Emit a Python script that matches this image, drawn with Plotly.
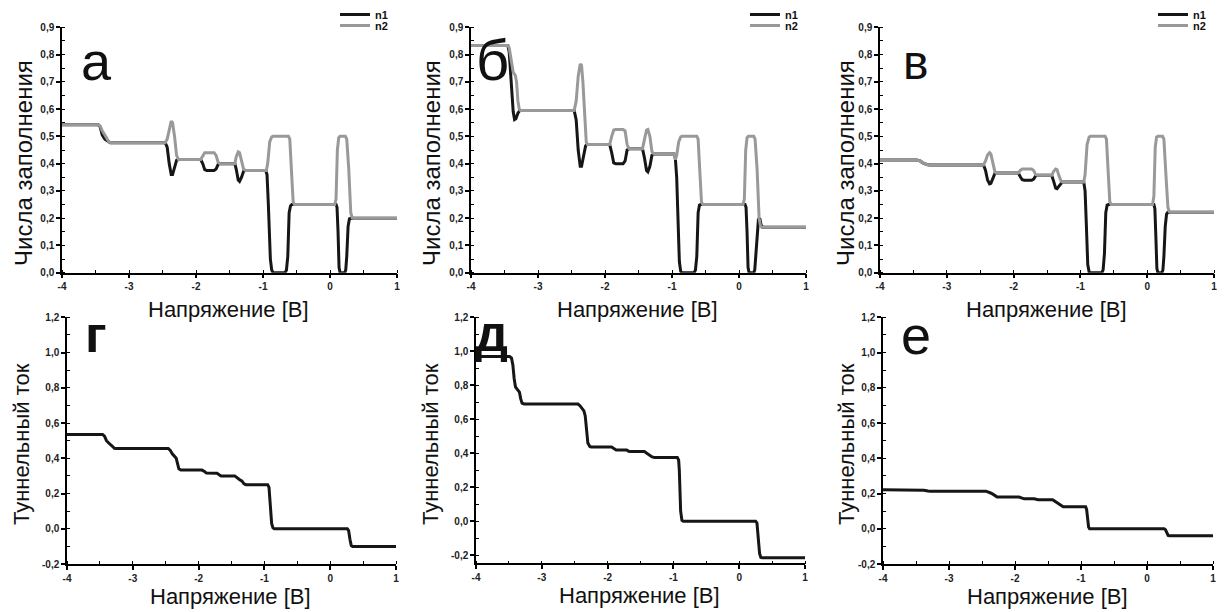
import plotly.graph_objects as go

W, H = 1232, 612

# ---------------- data: occupation numbers (top row) ----------------
a_n1_x = [-4, -3.46, -3.43, -3.40, -3.36, -3.32, -3.28, -2.46, -2.43, -2.40, -2.37, -2.35, -2.32, -2.29, -2.26,
          -1.93, -1.90, -1.87, -1.84, -1.73, -1.70, -1.67, -1.64, -1.42, -1.40, -1.37, -1.35, -1.32, -1.29, -1.26,
          -0.96, -0.94, -0.92, -0.89, -0.87, -0.85, -0.67, -0.65, -0.63, -0.61, -0.59, -0.57, 0.09, 0.105, 0.12,
          0.135, 0.15, 0.22, 0.235, 0.25, 0.27, 0.29, 0.31, 1]
a_n1_y = [0.543, 0.543, 0.535, 0.505, 0.49, 0.482, 0.477, 0.477, 0.46, 0.40, 0.36, 0.36, 0.39, 0.412, 0.415,
          0.415, 0.40, 0.378, 0.375, 0.375, 0.38, 0.397, 0.40, 0.40, 0.38, 0.34, 0.335, 0.35, 0.372, 0.375,
          0.375, 0.36, 0.25, 0.05, 0.01, 0.0, 0.0, 0.01, 0.06, 0.22, 0.245, 0.25, 0.25, 0.24, 0.15,
          0.02, 0.0, 0.0, 0.01, 0.06, 0.17, 0.198, 0.20, 0.20]
a_n2_x = [-4, -3.46, -3.43, -3.40, -3.36, -3.33, -3.30, -3.27, -2.46, -2.43, -2.40, -2.37, -2.35, -2.32, -2.29,
          -2.26, -1.93, -1.90, -1.87, -1.73, -1.70, -1.67, -1.64, -1.42, -1.40, -1.37, -1.35, -1.32, -1.29, -1.26,
          -0.95, -0.93, -0.90, -0.87, -0.85, -0.62, -0.60, -0.57, -0.55, -0.53, 0.07, 0.09, 0.11, 0.13, 0.15,
          0.23, 0.25, 0.28, 0.31, 0.33, 0.35, 1]
a_n2_y = [0.543, 0.543, 0.538, 0.52, 0.505, 0.49, 0.479, 0.477, 0.477, 0.49, 0.53, 0.556, 0.55, 0.50, 0.43,
          0.415, 0.415, 0.43, 0.44, 0.44, 0.43, 0.405, 0.40, 0.40, 0.425, 0.443, 0.44, 0.41, 0.38, 0.375,
          0.375, 0.40, 0.48, 0.498, 0.50, 0.50, 0.49, 0.35, 0.26, 0.25, 0.25, 0.27, 0.45, 0.495, 0.50,
          0.50, 0.49, 0.38, 0.22, 0.202, 0.20, 0.20]

b_n1_x = [-4, -3.45, -3.43, -3.40, -3.37, -3.35, -3.33, -3.30, -3.27, -2.46, -2.43, -2.40, -2.37, -2.35, -2.32,
          -2.29, -2.27, -1.93, -1.90, -1.87, -1.84, -1.73, -1.70, -1.67, -1.64, -1.44, -1.41, -1.38, -1.36, -1.33,
          -1.30, -1.27, -0.97, -0.95, -0.93, -0.91, -0.89, -0.87, -0.85, -0.67, -0.65, -0.63, -0.61, -0.59, -0.57,
          0.09, 0.105, 0.12, 0.135, 0.15, 0.22, 0.235, 0.25, 0.27, 0.29, 0.31, 0.33, 0.35, 1]
b_n1_y = [0.833, 0.833, 0.81, 0.70, 0.59, 0.562, 0.565, 0.585, 0.595, 0.595, 0.56, 0.45, 0.39, 0.39, 0.43,
          0.465, 0.47, 0.47, 0.44, 0.403, 0.40, 0.40, 0.41, 0.45, 0.455, 0.455, 0.42, 0.375, 0.37, 0.39,
          0.43, 0.435, 0.435, 0.42, 0.35, 0.20, 0.04, 0.005, 0.0, 0.0, 0.01, 0.06, 0.22, 0.248, 0.25,
          0.25, 0.24, 0.15, 0.02, 0.0, 0.0, 0.01, 0.06, 0.16, 0.195, 0.20, 0.175, 0.167, 0.167]
b_n2_x = [-4, -3.45, -3.43, -3.40, -3.37, -3.34, -3.32, -3.30, -3.28, -3.26, -2.46, -2.43, -2.40, -2.37, -2.35,
          -2.33, -2.30, -2.28, -2.26, -1.93, -1.90, -1.87, -1.84, -1.73, -1.70, -1.67, -1.64, -1.44, -1.41, -1.38,
          -1.36, -1.33, -1.30, -1.27, -0.97, -0.95, -0.93, -0.90, -0.87, -0.85, -0.63, -0.61, -0.58, -0.56, -0.54,
          0.06, 0.08, 0.10, 0.12, 0.14, 0.22, 0.24, 0.27, 0.30, 0.32, 0.34, 1]
b_n2_y = [0.833, 0.833, 0.825, 0.78, 0.735, 0.725, 0.70, 0.63, 0.60, 0.595, 0.595, 0.63, 0.72, 0.765, 0.76,
          0.70, 0.55, 0.48, 0.47, 0.47, 0.50, 0.523, 0.525, 0.525, 0.52, 0.47, 0.455, 0.455, 0.49, 0.523,
          0.525, 0.50, 0.445, 0.435, 0.435, 0.415, 0.43, 0.48, 0.498, 0.50, 0.50, 0.49, 0.35, 0.26, 0.25,
          0.25, 0.27, 0.45, 0.495, 0.50, 0.50, 0.49, 0.38, 0.20, 0.172, 0.167, 0.167]

c_n1_x = [-4, -3.45, -3.40, -3.36, -3.30, -3.26, -2.45, -2.42, -2.39, -2.36, -2.34, -2.31, -2.28, -2.26, -1.93,
          -1.90, -1.87, -1.84, -1.73, -1.70, -1.67, -1.64, -1.43, -1.40, -1.37, -1.35, -1.32, -1.29, -1.27, -0.95,
          -0.93, -0.91, -0.89, -0.87, -0.85, -0.68, -0.66, -0.64, -0.62, -0.60, -0.58, 0.10, 0.115, 0.13, 0.145,
          0.16, 0.22, 0.235, 0.25, 0.27, 0.29, 0.31, 1]
c_n1_y = [0.413, 0.413, 0.41, 0.403, 0.397, 0.395, 0.395, 0.375, 0.34, 0.326, 0.328, 0.35, 0.364, 0.366, 0.366,
          0.352, 0.341, 0.339, 0.339, 0.343, 0.355, 0.357, 0.357, 0.335, 0.31, 0.308, 0.318, 0.331, 0.333, 0.333,
          0.30, 0.17, 0.03, 0.003, 0.0, 0.0, 0.01, 0.07, 0.22, 0.248, 0.25, 0.25, 0.235, 0.13, 0.015,
          0.0, 0.0, 0.01, 0.06, 0.17, 0.215, 0.222, 0.222]
c_n2_x = [-4, -3.45, -3.40, -3.36, -3.30, -3.26, -2.45, -2.42, -2.39, -2.36, -2.34, -2.31, -2.28, -2.26, -1.93,
          -1.90, -1.87, -1.73, -1.70, -1.67, -1.64, -1.43, -1.40, -1.37, -1.35, -1.32, -1.29, -1.27, -0.95, -0.93,
          -0.90, -0.87, -0.85, -0.63, -0.61, -0.58, -0.56, -0.54, 0.08, 0.10, 0.12, 0.14, 0.16, 0.23, 0.25,
          0.28, 0.31, 0.33, 0.35, 1]
c_n2_y = [0.413, 0.413, 0.41, 0.403, 0.397, 0.395, 0.395, 0.41, 0.432, 0.44, 0.435, 0.40, 0.37, 0.366, 0.366,
          0.375, 0.38, 0.38, 0.375, 0.36, 0.357, 0.357, 0.372, 0.38, 0.378, 0.355, 0.336, 0.333, 0.333, 0.36,
          0.47, 0.497, 0.50, 0.50, 0.49, 0.35, 0.26, 0.25, 0.25, 0.28, 0.46, 0.497, 0.50, 0.50, 0.49,
          0.36, 0.24, 0.224, 0.222, 0.222]

# ---------------- data: tunnelling current (bottom row) ----------------
d_x = [-4, -3.46, -3.43, -3.40, -3.37, -3.34, -3.31, -3.28, -3.25, -2.46, -2.43, -2.40, -2.37, -2.34, -2.32,
       -2.30, -2.27, -1.95, -1.91, -1.88, -1.72, -1.69, -1.66, -1.45, -1.42, -1.38, -1.34, -1.31, -1.28, -0.95,
       -0.93, -0.91, -0.89, -0.87, -0.85, 0.26, 0.28, 0.30, 0.32, 0.34, 1]
d_y = [0.535, 0.535, 0.525, 0.50, 0.488, 0.48, 0.468, 0.457, 0.455, 0.455, 0.445, 0.425, 0.413, 0.40, 0.37,
       0.34, 0.333, 0.333, 0.325, 0.316, 0.315, 0.306, 0.30, 0.30, 0.29, 0.28, 0.27, 0.255, 0.25, 0.25,
       0.235, 0.15, 0.03, 0.005, 0.0, 0.0, -0.01, -0.06, -0.095, -0.10, -0.10]

e_x = [-4, -3.49, -3.46, -3.44, -3.42, -3.40, -3.37, -3.34, -3.32, -3.30, -3.27, -2.45, -2.42, -2.39, -2.36,
       -2.34, -2.32, -2.30, -2.27, -2.25, -1.94, -1.90, -1.87, -1.71, -1.68, -1.65, -1.44, -1.41, -1.37, -1.33,
       -1.29, -0.94, -0.92, -0.91, -0.89, -0.87, -0.85, 0.25, 0.27, 0.29, 0.31, 0.33, 0.35, 1]
e_y = [0.97, 0.97, 0.96, 0.92, 0.84, 0.79, 0.775, 0.76, 0.72, 0.695, 0.69, 0.69, 0.68, 0.662, 0.65,
       0.62, 0.53, 0.46, 0.44, 0.437, 0.437, 0.428, 0.42, 0.42, 0.412, 0.41, 0.41, 0.402, 0.39, 0.38,
       0.375, 0.375, 0.36, 0.30, 0.06, 0.005, 0.0, 0.0, -0.01, -0.08, -0.19, -0.213, -0.215, -0.215]

f_x = [-4, -3.44, -3.38, -3.32, -3.28, -2.44, -2.41, -2.37, -2.33, -2.30, -2.27, -1.94, -1.90, -1.86, -1.71,
       -1.68, -1.65, -1.43, -1.40, -1.37, -1.33, -1.30, -1.27, -0.93, -0.915, -0.90, -0.885, -0.87, 0.26, 0.28,
       0.30, 0.32, 0.34, 1]
f_y = [0.221, 0.221, 0.219, 0.214, 0.213, 0.213, 0.21, 0.203, 0.195, 0.185, 0.18, 0.18, 0.174, 0.17, 0.17,
       0.166, 0.165, 0.165, 0.158, 0.148, 0.142, 0.13, 0.125, 0.125, 0.11, 0.06, 0.01, 0.0, 0.0, -0.005,
       -0.025, -0.038, -0.04, -0.04]

# ---------------- tick labels / texts ----------------
x_ticks = [-4, -3, -2, -1, 0, 1]
x_ticktext = ["-4", "-3", "-2", "-1", "0", "1"]
occ_ticks = [0.0, 0.1, 0.2, 0.3, 0.4, 0.5, 0.6, 0.7, 0.8, 0.9]
occ_ticktext = ["0,0", "0,1", "0,2", "0,3", "0,4", "0,5", "0,6", "0,7", "0,8", "0,9"]
cur_ticks = [-0.2, 0.0, 0.2, 0.4, 0.6, 0.8, 1.0, 1.2]
cur_ticktext = ["-0,2", "0,0", "0,2", "0,4", "0,6", "0,8", "1,0", "1,2"]
panel_letters = ["а", "б", "в", "г", "д", "е"]
x_title = "Напряжение [В]"
occ_title = "Числа заполнения"
cur_title = "Туннельный ток"

BLACK = "#161616"
GRAY = "#999999"
FONT = "Liberation Sans"


def px(x):
    return x / W


def py(y):
    return 1 - y / H


# panel boxes in pixels: (left, right, top, bottom)
boxes = [
    (62, 397, 27.3, 272.7), (471, 806, 27.3, 272.7), (880, 1214, 27.3, 272.7),
    (67, 396, 317.3, 564), (476, 805, 317.3, 563.3), (883, 1213, 317.3, 564),
]
y_ranges = [[0, 0.9], [0, 0.9], [0, 0.9], [-0.2, 1.2], [-0.247, 1.2], [-0.2, 1.2]]

fig = go.Figure()

top_series = [(a_n1_x, a_n1_y, a_n2_x, a_n2_y), (b_n1_x, b_n1_y, b_n2_x, b_n2_y), (c_n1_x, c_n1_y, c_n2_x, c_n2_y)]
for i, (x1, y1, x2, y2) in enumerate(top_series):
    ax = "" if i == 0 else str(i + 1)
    fig.add_trace(go.Scatter(x=x1, y=y1, mode="lines", name="n1", xaxis="x" + ax, yaxis="y" + ax,
                             line=dict(color=BLACK, width=3),
                             legend="legend" + ("" if i == 0 else str(2 * i + 1))))
    fig.add_trace(go.Scatter(x=x2, y=y2, mode="lines", name="n2", xaxis="x" + ax, yaxis="y" + ax,
                             line=dict(color=GRAY, width=3),
                             legend="legend" + str(2 * i + 2)))

for i, (xs, ys) in enumerate([(d_x, d_y), (e_x, e_y), (f_x, f_y)]):
    k = i + 4
    fig.add_trace(go.Scatter(x=xs, y=ys, mode="lines", showlegend=False, xaxis="x%d" % k, yaxis="y%d" % k,
                             line=dict(color=BLACK, width=3)))

tickfont = dict(family=FONT, size=10, color="#222", weight="bold")
layout = dict(width=W, height=H, margin=dict(l=0, r=0, t=0, b=0), plot_bgcolor="white",
              paper_bgcolor="white", annotations=[])

for k, (l, r, t, b) in enumerate(boxes):
    n = "" if k == 0 else str(k + 1)
    top = k < 3
    layout["xaxis" + n] = dict(
        domain=[px(l), px(r)], anchor="y" + n, range=[-4, 1], tickmode="array",
        tickvals=x_ticks, ticktext=x_ticktext, ticks="outside", ticklen=4, tickwidth=1.5,
        tickcolor="black", showline=True, linewidth=1.5, linecolor="black", showgrid=False,
        zeroline=False, tickfont=tickfont, automargin=False,
        minor=dict(tickmode="linear", tick0=-4, dtick=0.5, ticks="inside", ticklen=3,
                   tickwidth=1, tickcolor="black", showgrid=False))
    layout["yaxis" + n] = dict(
        domain=[py(b), py(t)], anchor="x" + n, range=y_ranges[k], tickmode="array",
        tickvals=occ_ticks if top else cur_ticks, ticktext=occ_ticktext if top else cur_ticktext,
        ticks="outside", ticklen=4, tickwidth=1.5, tickcolor="black", showline=True, linewidth=1.5,
        linecolor="black", showgrid=False, zeroline=False, tickfont=tickfont, automargin=False,
        minor=dict(tickmode="linear", tick0=0, dtick=0.05 if top else 0.1, ticks="inside", ticklen=3,
                   tickwidth=1, tickcolor="black", showgrid=False))

    cx = (l + r) / 2
    # x-axis title
    layout["annotations"].append(dict(
        text=x_title, xref="paper", yref="paper", x=px(cx - 1), y=py(b + (37 if top else 32)),
        xanchor="center", yanchor="middle", showarrow=False,
        font=dict(family=FONT, size=22, color="#111")))
    # y-axis title
    ytx = [24, 432, 846, 21, 430, 846][k]
    yty = 163 if top else 444
    layout["annotations"].append(dict(
        text=occ_title if top else cur_title, xref="paper", yref="paper", x=px(ytx), y=py(yty),
        xanchor="center", yanchor="middle", textangle=-90, showarrow=False,
        font=dict(family=FONT, size=24 if top else 22, color="#111")))

# panel letters
letter_pos = [(96, 61, 54), (492, 60, 58), (916, 63, 48), (96, 334, 52), (491, 333, 52), (916, 335, 54)]
for ch, (lx, ly, sz) in zip(panel_letters, letter_pos):
    layout["annotations"].append(dict(
        text=ch, xref="paper", yref="paper", x=px(lx), y=py(ly), xanchor="center", yanchor="middle",
        showarrow=False, font=dict(family=FONT, size=sz, color="#111",
                                   weight="bold" if ch in ("г", "д") else "normal")))

# one legend entry per legend box, stacked at the top right of each upper panel
legend_anchor = [(335, 0), (335, 11), (745, 0), (745, 11), (1153, 0), (1153, 11)]
for j, (lx, ly) in enumerate(legend_anchor):
    name = "legend" if j == 0 else "legend%d" % (j + 1)
    layout[name] = dict(x=px(lx), y=py(ly), xanchor="left", yanchor="top", bgcolor="rgba(0,0,0,0)",
                        borderwidth=0, itemwidth=30, font=dict(family=FONT, size=11, color="#111",
                                                                weight="bold"))

fig.update_layout(**layout)
fig.write_html("out.html")
